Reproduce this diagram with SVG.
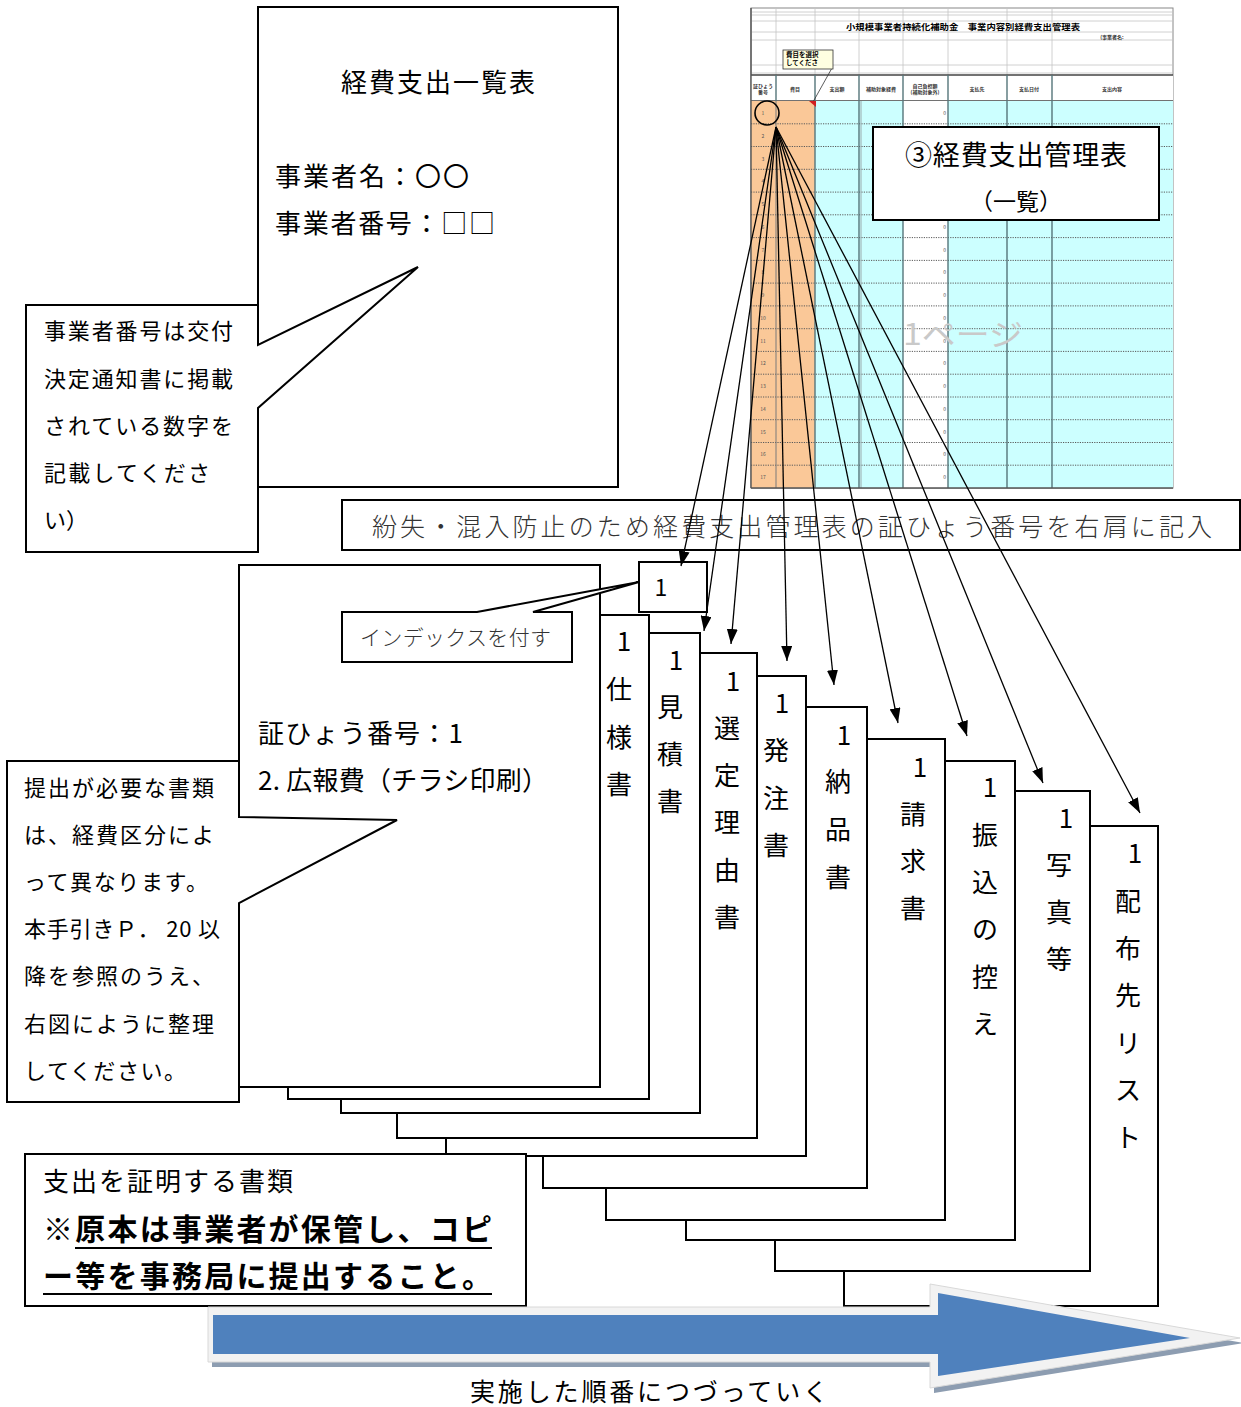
<svg xmlns="http://www.w3.org/2000/svg" width="1241" height="1407" viewBox="0 0 1241 1407">
<defs>
<style>
text{font-family:"Noto Sans CJK JP","Noto Sans",sans-serif;fill:#000;dominant-baseline:central;transform:translateY(-2px)}
.box{fill:#fff;stroke:#000;stroke-width:2}
.pg{fill:#fff;stroke:#000;stroke-width:2}
.t24{font-size:26px}
.t21{font-size:22px}
.c{text-anchor:middle}
.lt{font-weight:300;fill:#333}
.tiny{font-size:5px;font-weight:bold;fill:#333;text-anchor:middle}
.num{font-size:5px;fill:#555;text-anchor:middle}
.zero{font-size:5px;fill:#555;text-anchor:end}
.conn{stroke:#000;stroke-width:1.3;fill:none;marker-end:url(#ah)}
.vl{stroke:#56767b;stroke-width:1.4}
.gl{stroke:#c4c4c4;stroke-width:0.8}
</style>
<marker id="ah" viewBox="0 0 15 11" refX="15" refY="5.5" markerWidth="15" markerHeight="11" markerUnits="userSpaceOnUse" orient="auto">
<path d="M0,0 L15,5.5 L0,11 z" fill="#000"/>
</marker>
</defs>
<rect width="1241" height="1407" fill="#fff"/>

<!-- Spreadsheet image -->
<g id="spreadsheet">
<rect x="751" y="8" width="422" height="480" fill="#fff" stroke="#888" stroke-width="1"/>
<path class="gl" d="M751,12H1173M751,15H1173M751,21H1173M751,32H1173M751,40H1173M751,65H1173M751,73H1173M776,8V75M815,8V75M859,8V75M903,8V75M948,8V75M1007,8V75M1052,8V75"/>
<text x="963" y="28" style="font-size:8.5px;font-weight:bold;text-anchor:middle" textLength="234" lengthAdjust="spacingAndGlyphs">小規模事業者持続化補助金　事業内容別経費支出管理表</text>
<text x="1112" y="38" style="font-size:5px;font-weight:bold;fill:#333;text-anchor:middle">(事業者名:</text>
<rect x="751" y="75" width="422" height="26" fill="#fff"/>
<path d="M751,75H1173M751,101H1173" stroke="#444" stroke-width="1.6"/>
<path class="vl" d="M776,75V101M815,75V101M859,75V101M903,75V101M948,75V101M1007,75V101M1052,75V101"/>
<text class="tiny" x="763" y="87">証ひょう</text><text class="tiny" x="763" y="93">番号</text>
<text class="tiny" x="795" y="90">費目</text>
<text class="tiny" x="837" y="90">支出額</text>
<text class="tiny" x="881" y="90">補助対象経費</text>
<text class="tiny" x="925" y="87">自己負担額</text><text class="tiny" x="925" y="93">(補助対象外)</text>
<text class="tiny" x="977" y="90">支払先</text>
<text class="tiny" x="1029" y="90">支払日付</text>
<text class="tiny" x="1112" y="90">支出内容</text>
<rect x="751" y="101" width="64" height="387" fill="#fac898"/>
<rect x="815" y="101" width="88" height="387" fill="#ccffff"/>
<rect x="903" y="101" width="45" height="387" fill="#fff"/>
<rect x="948" y="101" width="225" height="387" fill="#ccffff"/>
<path d="M751,123.8H1173M751,146.5H1173M751,169.3H1173M751,192.1H1173M751,214.8H1173M751,237.6H1173M751,260.4H1173M751,283.1H1173M751,305.9H1173M751,328.7H1173M751,351.4H1173M751,374.2H1173M751,397H1173M751,419.7H1173M751,442.5H1173M751,465.2H1173" stroke="#5a5a5a" stroke-width="1" stroke-dasharray="1.2,1.2"/>
<path d="M776,101V488" stroke="#7a7a7a" stroke-width="1"/>
<path class="vl" d="M815,101V488M859,101V488M903,101V488M948,101V488M1007,101V488M1052,101V488"/>
<path d="M861,101V488" stroke="#9aabad" stroke-width="1"/>
<path d="M751,8V488M751,488H1173" stroke="#555" stroke-width="1.4"/>
<g>
<text class="num" x="763" y="114">1</text><text class="num" x="763" y="137">2</text><text class="num" x="763" y="160">3</text><text class="num" x="763" y="182.7">4</text><text class="num" x="763" y="205.5">5</text><text class="num" x="763" y="228.2">6</text><text class="num" x="763" y="251">7</text><text class="num" x="763" y="273.7">8</text><text class="num" x="763" y="296.5">9</text><text class="num" x="763" y="319.3">10</text><text class="num" x="763" y="342.1">11</text><text class="num" x="763" y="364.8">12</text><text class="num" x="763" y="387.6">13</text><text class="num" x="763" y="410.3">14</text><text class="num" x="763" y="433.1">15</text><text class="num" x="763" y="455.9">16</text><text class="num" x="763" y="478.6">17</text>
</g>
<g>
<text class="zero" x="946" y="114">0</text><text class="zero" x="946" y="228.2">0</text><text class="zero" x="946" y="251">0</text><text class="zero" x="946" y="273.7">0</text><text class="zero" x="946" y="296.5">0</text><text class="zero" x="946" y="319.3">0</text><text class="zero" x="946" y="342.1">0</text><text class="zero" x="946" y="364.8">0</text><text class="zero" x="946" y="387.6">0</text><text class="zero" x="946" y="410.3">0</text><text class="zero" x="946" y="433.1">0</text><text class="zero" x="946" y="455.9">0</text><text class="zero" x="946" y="478.6">0</text>
</g>
<text x="963" y="334" style="font-size:30px;fill:#c9c9c9;text-anchor:middle" textLength="120" lengthAdjust="spacingAndGlyphs">1ページ</text>
<path d="M832,68L813,102" stroke="#333" stroke-width="0.8"/>
<path d="M809,101L816,101L816,107z" fill="#d02020"/>
<rect x="783" y="50" width="50" height="19" fill="#ffffe1" stroke="#333" stroke-width="0.8"/>
<text x="786" y="56" style="font-size:6.5px;font-weight:bold">費目を選択</text>
<text x="786" y="64" style="font-size:6.5px;font-weight:bold">してくださ</text>
<circle cx="767" cy="113" r="12" fill="none" stroke="#000" stroke-width="1.6"/>
</g>

<!-- Summary page -->
<g id="summary-page">
<rect class="pg" x="258" y="7" width="360" height="480"/>
<text class="t24 c" x="438" y="82" textLength="194" lengthAdjust="spacing">経費支出一覧表</text>
<text class="t24" x="275" y="176" textLength="194" lengthAdjust="spacing">事業者名：〇〇</text>
<text class="t24" x="275" y="223" textLength="220" lengthAdjust="spacing">事業者番号：□□</text>
</g>

<g id="note-bizno">
<path class="box" d="M26,305H258V345L418,267L258,408V552H26Z"/>
<text class="t21" x="44" y="331" textLength="189" lengthAdjust="spacing">事業者番号は交付</text>
<text class="t21" x="44" y="379" textLength="189" lengthAdjust="spacing">決定通知書に掲載</text>
<text class="t21" x="44" y="426" textLength="189" lengthAdjust="spacing">されている数字を</text>
<text class="t21" x="44" y="473" textLength="166" lengthAdjust="spacing">記載してくださ</text>
<text class="t21" x="44" y="520">い）</text>
</g>

<g id="title-box">
<rect class="box" x="873" y="127" width="286" height="93"/>
<text class="c" x="1016" y="155" style="font-size:27px" textLength="222" lengthAdjust="spacing">③経費支出管理表</text>
<text class="c" x="1016" y="202" style="font-size:23px">（一覧）</text>
</g>

<g id="instruction-box">
<rect class="box" x="342" y="500" width="898" height="50"/>
<text class="lt" x="372" y="527" style="font-size:25px" textLength="840" lengthAdjust="spacing">紛失・混入防止のため経費支出管理表の証ひょう番号を右肩に記入</text>
</g>

<!-- Document stack (back to front) -->
<g id="pages">
<g id="page-haifu">
<rect class="pg" x="844" y="826" width="314" height="480"/>
<text class="t24 c"><tspan x="1135" y="853">1</tspan><tspan x="1128" y="901">配</tspan><tspan x="1128" y="948">布</tspan><tspan x="1128" y="995">先</tspan><tspan x="1128" y="1043">リ</tspan><tspan x="1128" y="1090">ス</tspan><tspan x="1128" y="1137">ト</tspan></text>
</g>
<g id="page-shashin">
<rect class="pg" x="775" y="791" width="315" height="480"/>
<text class="t24 c"><tspan x="1066" y="818">1</tspan><tspan x="1059" y="865">写</tspan><tspan x="1059" y="912">真</tspan><tspan x="1059" y="959">等</tspan></text>
</g>
<g id="page-furikomi">
<rect class="pg" x="686" y="761" width="329" height="479"/>
<text class="t24 c"><tspan x="990" y="787">1</tspan><tspan x="985" y="835">振</tspan><tspan x="985" y="882">込</tspan><tspan x="985" y="929">の</tspan><tspan x="985" y="977">控</tspan><tspan x="985" y="1024">え</tspan></text>
</g>
<g id="page-seikyu">
<rect class="pg" x="606" y="739" width="339" height="481"/>
<text class="t24 c"><tspan x="920" y="767">1</tspan><tspan x="913" y="814">請</tspan><tspan x="913" y="861">求</tspan><tspan x="913" y="908">書</tspan></text>
</g>
<g id="page-nohin">
<rect class="pg" x="543" y="707" width="324" height="481"/>
<text class="t24 c"><tspan x="844" y="735">1</tspan><tspan x="838" y="781">納</tspan><tspan x="838" y="829">品</tspan><tspan x="838" y="877">書</tspan></text>
</g>
<g id="page-hacchu">
<rect class="pg" x="446" y="676" width="360" height="480"/>
<text class="t24 c"><tspan x="782" y="703">1</tspan><tspan x="776" y="750">発</tspan><tspan x="776" y="798">注</tspan><tspan x="776" y="845">書</tspan></text>
</g>
<g id="page-sentei">
<rect class="pg" x="397" y="653" width="360" height="485"/>
<text class="t24 c"><tspan x="733" y="681">1</tspan><tspan x="727" y="728">選</tspan><tspan x="727" y="775">定</tspan><tspan x="727" y="822">理</tspan><tspan x="727" y="870">由</tspan><tspan x="727" y="917">書</tspan></text>
</g>
<g id="page-mitsumori">
<rect class="pg" x="341" y="633" width="359" height="480"/>
<text class="t24 c"><tspan x="676" y="660">1</tspan><tspan x="670" y="707">見</tspan><tspan x="670" y="754">積</tspan><tspan x="670" y="801">書</tspan></text>
</g>
<g id="page-shiyo">
<rect class="pg" x="288" y="615" width="361" height="484"/>
<text class="t24 c"><tspan x="624" y="641">1</tspan><tspan x="619" y="689">仕</tspan><tspan x="619" y="737">様</tspan><tspan x="619" y="784">書</tspan></text>
</g>
<g id="page-front">
<rect class="pg" x="239" y="565" width="361" height="522"/>
<text class="t24" x="258" y="733" textLength="205" lengthAdjust="spacing">証ひょう番号：1</text>
<text class="t24" x="258" y="780" textLength="290" lengthAdjust="spacing">2. 広報費（チラシ印刷）</text>
</g>
</g>

<g id="index-tab">
<rect class="box" x="639" y="562" width="68" height="50"/>
<text x="661" y="588" style="font-size:23px;text-anchor:middle">1</text>
</g>

<g id="index-note">
<path class="box" d="M342,612H477L639,582L533,612H572V662H342Z"/>
<text class="lt" x="360" y="638" style="font-size:21px" textLength="191" lengthAdjust="spacing">インデックスを付す</text>
</g>

<g id="note-docs">
<path class="box" d="M7,761H239V817L397,820L239,903V1102H7Z"/>
<text class="t21" x="24" y="788" textLength="190" lengthAdjust="spacing">提出が必要な書類</text>
<text class="t21" x="24" y="835" textLength="190" lengthAdjust="spacing">は、経費区分によ</text>
<text class="t21" x="24" y="882" textLength="184" lengthAdjust="spacing">って異なります。</text>
<text class="t21" x="24" y="929" textLength="196" lengthAdjust="spacing">本手引きＰ． 20 以</text>
<text class="t21" x="24" y="976" textLength="190" lengthAdjust="spacing">降を参照のうえ、</text>
<text class="t21" x="24" y="1024" textLength="190" lengthAdjust="spacing">右図にように整理</text>
<text class="t21" x="24" y="1071" textLength="162" lengthAdjust="spacing">してください。</text>
</g>

<g id="evidence-box">
<rect class="box" x="25" y="1154" width="501" height="152"/>
<text x="43" y="1181" style="font-size:26px" textLength="250" lengthAdjust="spacing">支出を証明する書類</text>
<text x="43" y="1229" style="font-size:30px;font-weight:bold" textLength="449" lengthAdjust="spacing">※原本は事業者が保管し、コピ</text>
<text x="43" y="1276" style="font-size:30px;font-weight:bold" textLength="449" lengthAdjust="spacing">ー等を事務局に提出すること。</text>
<path d="M75,1248H492M43,1294H492" stroke="#000" stroke-width="2"/>
</g>

<g id="connectors">
<path class="conn" d="M776,127L681,566"/>
<path class="conn" d="M776,127L704,631"/>
<path class="conn" d="M776,127L731,644"/>
<path class="conn" d="M776,127L787,661"/>
<path class="conn" d="M776,127L834,685"/>
<path class="conn" d="M776,127L898,723"/>
<path class="conn" d="M776,127L967,736"/>
<path class="conn" d="M776,127L1043,783"/>
<path class="conn" d="M776,127L1140,813"/>
</g>

<g id="flow-arrow">
<path d="M212,1312H934V1289L1244,1343L934,1393V1367H212Z" fill="#8d9db1"/>
<path d="M208,1307H930V1284L1240,1338L930,1388V1362H208Z" fill="#f2f2f2" stroke="#d8d8d8" stroke-width="1"/>
<path d="M213,1315H938V1293L1190,1338L938,1376V1354H213Z" fill="#4f81bd"/>
<text x="649" y="1392" style="font-size:25px;text-anchor:middle" textLength="358" lengthAdjust="spacing">実施した順番につづっていく</text>
</g>
</svg>
